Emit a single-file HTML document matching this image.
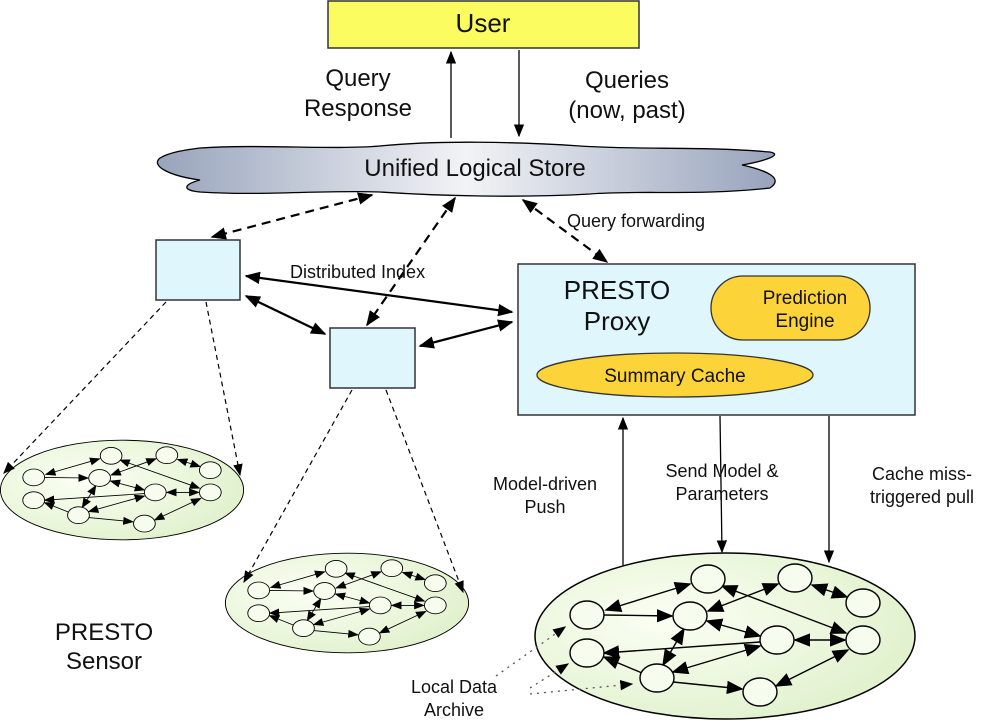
<!DOCTYPE html>
<html><head><meta charset="utf-8"><style>body{margin:0;background:#fff}svg{display:block}text{font-family:"Liberation Sans",sans-serif;fill:#111}</style></head><body>
<svg width="1000" height="721" viewBox="0 0 1000 721" xmlns="http://www.w3.org/2000/svg">
<defs>
<marker id="a" viewBox="0 0 10 10" refX="9" refY="5" markerWidth="7" markerHeight="7" orient="auto-start-reverse"><path d="M0,1 L10,5 L0,9 z" fill="#000"/></marker>
<marker id="t" viewBox="0 0 10 10" refX="9" refY="5" markerWidth="10" markerHeight="10" orient="auto-start-reverse"><path d="M0,1 L10,5 L0,9 z" fill="#000"/></marker>
<marker id="s" viewBox="0 0 10 10" refX="9" refY="5" markerWidth="12" markerHeight="12" orient="auto-start-reverse"><path d="M0,1 L10,5 L0,9 z" fill="#000"/></marker>
<linearGradient id="cl" x1="0" x2="1"><stop offset="0" stop-color="#98a4bc"/><stop offset="0.5" stop-color="#f2f3f6"/><stop offset="1" stop-color="#98a4bc"/></linearGradient>
<radialGradient id="gr" cx="0.35" cy="0.4" r="0.8"><stop offset="0" stop-color="#fbfff4"/><stop offset="1" stop-color="#dcefc6"/></radialGradient>
<g id="net">
<ellipse cx="725" cy="636" rx="190" ry="83" fill="url(#gr)" stroke="#000" stroke-width="1.5"/>
<g stroke="#000" stroke-width="1.4" fill="none" marker-end="url(#s)">
<line x1="606" y1="610" x2="690" y2="584" marker-start="url(#s)"/>
<line x1="604" y1="615" x2="672" y2="616"/>
<line x1="722" y1="586" x2="846" y2="633" marker-start="url(#s)"/>
<line x1="708" y1="611" x2="778" y2="584" marker-start="url(#s)"/>
<line x1="812" y1="585" x2="847" y2="597" marker-start="url(#s)"/>
<line x1="707" y1="621" x2="760" y2="636" marker-start="url(#s)"/>
<line x1="795" y1="640" x2="845" y2="640" marker-start="url(#s)"/>
<line x1="760" y1="642" x2="604" y2="653"/>
<line x1="642" y1="673" x2="604" y2="657"/>
<line x1="663" y1="665" x2="684" y2="629" marker-start="url(#s)"/>
<line x1="673" y1="672" x2="760" y2="646" marker-start="url(#s)"/>
<line x1="673" y1="682" x2="742" y2="689"/>
<line x1="776" y1="686" x2="848" y2="650" marker-start="url(#s)"/>
</g>
<g fill="#f6fdee" stroke="#000" stroke-width="1.4">
<ellipse cx="708" cy="579" rx="17" ry="14"/><ellipse cx="795" cy="578" rx="17" ry="14"/><ellipse cx="863" cy="603" rx="17" ry="14"/>
<ellipse cx="587" cy="615" rx="17" ry="14"/><ellipse cx="690" cy="616" rx="17" ry="14"/><ellipse cx="777" cy="640" rx="17" ry="14"/>
<ellipse cx="863" cy="640" rx="17" ry="14"/><ellipse cx="587" cy="653" rx="17" ry="14"/><ellipse cx="657" cy="678" rx="17" ry="14"/>
<ellipse cx="760" cy="692" rx="17" ry="14"/>
</g>
</g>
</defs>
<!-- User -->
<rect x="328" y="1" width="311" height="47" fill="#fafc60" stroke="#333" stroke-width="1.5"/>
<text x="483" y="32" font-size="26" text-anchor="middle">User</text>
<line x1="451" y1="138" x2="451" y2="52" stroke="#000" stroke-width="1.3" marker-end="url(#t)"/>
<line x1="519" y1="50" x2="519" y2="136" stroke="#000" stroke-width="1.3" marker-end="url(#t)"/>
<text x="358" y="86" font-size="24" text-anchor="middle">Query</text>
<text x="358" y="116" font-size="24" text-anchor="middle">Response</text>
<text x="627" y="88" font-size="24" text-anchor="middle">Queries</text>
<text x="627" y="118" font-size="24" text-anchor="middle">(now, past)</text>
<!-- cloud -->
<path d="M200,148 C260,144 330,150 380,146 C440,140 520,142 580,146 C640,150 700,146 770,152 C785,155 760,162 742,165 C765,170 785,178 770,188 C700,196 640,190 590,194 C520,198 440,196 380,192 C320,190 260,196 200,192 C180,190 185,184 200,180 C170,176 150,166 160,158 C170,152 185,150 200,148 Z" fill="url(#cl)" stroke="#000" stroke-width="1.3"/>
<text x="475" y="176" font-size="24" text-anchor="middle">Unified Logical Store</text>
<!-- dashed -->
<g stroke="#000" stroke-width="2.2" fill="none" stroke-dasharray="9,6">
<line x1="372" y1="195" x2="212" y2="237" marker-start="url(#a)" marker-end="url(#a)"/>
<line x1="455" y1="198" x2="367" y2="325" marker-start="url(#a)" marker-end="url(#a)"/>
<line x1="523" y1="200" x2="607" y2="262" marker-start="url(#a)" marker-end="url(#a)"/>
</g>
<text x="567" y="227" font-size="18">Query forwarding</text>
<!-- squares -->
<rect x="156" y="240" width="84" height="60" fill="#dff6fd" stroke="#333" stroke-width="1.5"/>
<rect x="330" y="328" width="85" height="60" fill="#dff6fd" stroke="#333" stroke-width="1.5"/>
<text x="290" y="278" font-size="18">Distributed Index</text>
<g stroke="#000" stroke-width="2.2" fill="none">
<line x1="246" y1="276" x2="512" y2="312" marker-start="url(#a)" marker-end="url(#a)"/>
<line x1="246" y1="296" x2="325" y2="334" marker-start="url(#a)" marker-end="url(#a)"/>
<line x1="420" y1="346" x2="512" y2="322" marker-start="url(#a)" marker-end="url(#a)"/>
</g>
<!-- proxy -->
<rect x="518" y="264" width="397" height="151" fill="#dff6fd" stroke="#333" stroke-width="1.5"/>
<text x="617" y="299" font-size="26" text-anchor="middle">PRESTO</text>
<text x="617" y="330" font-size="26" text-anchor="middle">Proxy</text>
<rect x="711" y="276" width="159" height="64" rx="32" fill="#fcd338" stroke="#333" stroke-width="1.3"/>
<text x="805" y="304" font-size="19" text-anchor="middle">Prediction</text>
<text x="805" y="327" font-size="19" text-anchor="middle">Engine</text>
<ellipse cx="675" cy="375" rx="138" ry="22" fill="#fcd338" stroke="#333" stroke-width="1.3"/>
<text x="675" y="382" font-size="19" text-anchor="middle">Summary Cache</text>
<!-- networks -->
<use href="#net"/>
<use href="#net" transform="translate(122,490) scale(0.64,0.6) translate(-725,-636)"/>
<use href="#net" transform="translate(347,603) scale(0.64,0.6) translate(-725,-636)"/>
<!-- sensor dashed -->
<g stroke="#000" stroke-width="1.2" fill="none" stroke-dasharray="5,4" marker-end="url(#t)">
<line x1="166" y1="302" x2="4" y2="473"/>
<line x1="206" y1="302" x2="240" y2="475"/>
<line x1="352" y1="390" x2="244" y2="582"/>
<line x1="386" y1="390" x2="463" y2="592"/>
</g>
<!-- proxy to sensor -->
<g stroke="#000" stroke-width="1.3" fill="none" marker-end="url(#t)">
<line x1="623" y1="565" x2="623" y2="418"/>
<line x1="720" y1="416" x2="722" y2="552"/>
<line x1="829" y1="416" x2="829" y2="562"/>
</g>
<text x="545" y="490" font-size="18" text-anchor="middle">Model-driven</text>
<text x="545" y="513" font-size="18" text-anchor="middle">Push</text>
<text x="722" y="477" font-size="18" text-anchor="middle">Send Model &amp;</text>
<text x="722" y="500" font-size="18" text-anchor="middle">Parameters</text>
<text x="922" y="480" font-size="18" text-anchor="middle">Cache miss-</text>
<text x="922" y="503" font-size="18" text-anchor="middle">triggered pull</text>
<!-- dotted -->
<g stroke="#555" stroke-width="1.3" fill="none" stroke-dasharray="2,5">
<line x1="496" y1="676" x2="565" y2="627" marker-end="url(#t)"/>
<line x1="530" y1="688" x2="568" y2="664" marker-end="url(#t)"/>
<line x1="530" y1="694" x2="632" y2="684" marker-end="url(#t)"/>
</g>
<text x="454" y="693" font-size="18" text-anchor="middle">Local Data</text>
<text x="454" y="716" font-size="18" text-anchor="middle">Archive</text>
<text x="104" y="640" font-size="24" text-anchor="middle">PRESTO</text>
<text x="104" y="669" font-size="24" text-anchor="middle">Sensor</text>
</svg>
</body></html>
